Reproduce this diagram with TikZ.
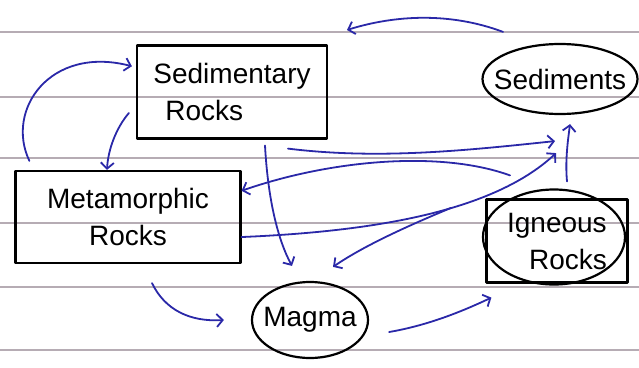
\documentclass[tikz,border=0pt]{standalone}
\usepackage{fontspec}
\setmainfont{Liberation Sans}
\usetikzlibrary{arrows.meta,shapes.geometric}
\definecolor{ink}{RGB}{42,40,168}
\definecolor{paperline}{RGB}{182,172,180}
\begin{document}
\begin{tikzpicture}[x=1pt, y=-1pt, font=\fontsize{28}{37}\selectfont, line join=round, line cap=round,
	>={Straight Barb[length=6pt,width=13pt]},
	rock/.style={draw, line width=2.2pt, rectangle, align=left},
	blob/.style={draw, line width=2.2pt, ellipse, inner ysep=0pt},
	flow/.style={draw=ink, line width=1.8pt, ->}]
	\useasboundingbox (0,0) rectangle (639,367);
	\foreach \y in {32,97,158,223,287,350}\draw[paperline, line width=2.5pt] (0,\y)--(639,\y);
	\node[rock, minimum width=190pt, minimum height=93pt] (sedrock) at (232,92) {Sedimentary\\\hspace*{12pt}Rocks};
	\node[rock, minimum width=225pt, minimum height=92pt, align=center] (metarock) at (128,217) {Metamorphic\\Rocks};
	\node[rock, minimum width=141pt, minimum height=83pt] (ignrock) at (557,241) {Igneous\\\hspace*{22pt}Rocks};
	\node[blob, minimum width=142pt, minimum height=95pt] (ignoval) at (554,237) {};
	\node[blob, inner xsep=-12pt, minimum width=155pt, minimum height=70pt] (sediment) at (560,79) {Sediments};
	\node[blob, inner xsep=-6pt, minimum width=116pt, minimum height=76pt] (magma) at (310,320) {Magma};
	\coordinate (topend) at (347,30);
	\draw[flow] ([xshift=-57pt,yshift=11pt]sediment.north) .. controls (450,12) and (395,15) .. (topend);
	\draw[flow] ([xshift=15pt,yshift=9pt]metarock.north west) .. controls (5,110) and (50,45) .. ([xshift=-4pt]sedrock.165);
	\draw[flow] ([xshift=-7pt,yshift=-21pt]sedrock.west) .. controls (116,128) and (108,150) .. ([xshift=-21pt]metarock.north);
	\draw[flow] ([xshift=33pt,yshift=-6pt]sedrock.south) .. controls (268,200) and (278,240) .. ([xshift=-18pt,yshift=15pt]magma.north);
	\draw[flow] ([xshift=56pt,yshift=-9pt]sedrock.south) .. controls (380,160) and (470,150) .. ([xshift=-5pt,yshift=-26pt]sediment.south);
	\draw[flow] ([xshift=-47pt,yshift=23pt]ignrock.north) .. controls (440,150) and (330,160) .. (metarock.13);
	\draw[flow] (metarock.-10) .. controls (360,232) and (490,215) .. ([xshift=-4pt,yshift=-38pt]sediment.south) coordinate[pos=.6] (fork);
	\draw[flow] (fork) .. controls (410,225) and (365,245) .. ([xshift=23pt,yshift=14pt]magma.north);
	\draw[flow] ([xshift=10pt,yshift=17pt]ignrock.north) .. controls (565,160) and (568,140) .. ([xshift=10pt,yshift=-9pt]sediment.south);
	\draw[flow] ([xshift=24pt,yshift=-19pt]metarock.south) .. controls (165,310) and (190,322) .. ([xshift=-27pt]magma.west);
	\draw[flow] ([xshift=20pt,yshift=-12pt]magma.east) .. controls (430,325) and (465,310) .. ([xshift=6pt,yshift=-14pt]ignrock.south west);
\end{tikzpicture}
\end{document}
